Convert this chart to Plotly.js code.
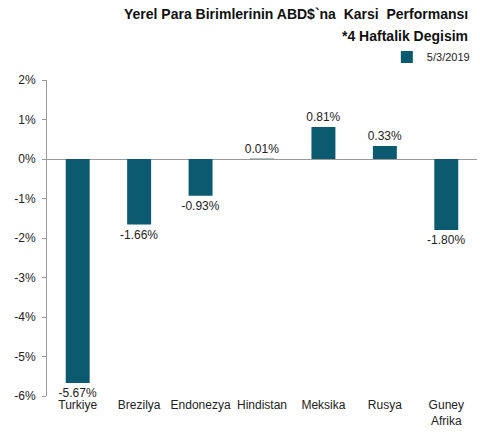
<!DOCTYPE html>
<html><head><meta charset="utf-8">
<script src="https://cdn.plot.ly/plotly-3.0.1.min.js"></script>
<style>html,body{margin:0;padding:0;background:#fff}#c{width:480px;height:447px}</style>
</head><body><div id="c"></div>
<script>
const categories = ["Turkiye", "Brezilya", "Endonezya", "Hindistan", "Meksika", "Rusya", "Guney<br>Afrika"];
const values = [-5.67, -1.66, -0.93, 0.01, 0.81, 0.33, -1.80];
const seriesName = "5/3/2019";
const yTickVals = [2, 1, 0, -1, -2, -3, -4, -5, -6];
const yTickText = ["2%", "1%", "0%", "-1%", "-2%", "-3%", "-4%", "-5%", "-6%"];
const titleLines = ["Yerel Para Birimlerinin ABD$`na  Karsi  Performansı", "*4 Haftalik Degisim"];

const F = "Liberation Sans, Arial, sans-serif";
const color = "#0b5a6f";
const H = 316, T = 80;
const py = px => 1 + (T - px) / H;

Plotly.newPlot("c", [{
  type: "bar",
  x: categories,
  y: values,
  name: seriesName,
  marker: {color: color},
  width: 0.39,
  text: values.map(v => v.toFixed(2) + "%"),
  textposition: "outside",
  constraintext: "none",
  cliponaxis: false,
  textfont: {family: F, size: 12, color: "#222"},
  hoverinfo: "none"
}], {
  width: 480, height: 447,
  margin: {l: 47, r: 3, t: 80, b: 51},
  paper_bgcolor: "#fff", plot_bgcolor: "#fff",
  font: {family: F, size: 12, color: "#222"},
  annotations: [
    {text: "<b>" + titleLines[0] + "</b>", xref: "paper", yref: "paper", x: 0.983, y: py(14),
     xanchor: "right", yanchor: "middle", showarrow: false, font: {family: F, size: 14, color: "#111"}},
    {text: "<b>" + titleLines[1] + "</b>", xref: "paper", yref: "paper", x: 0.983, y: py(36),
     xanchor: "right", yanchor: "middle", showarrow: false, font: {family: F, size: 14, color: "#111"}}
  ],
  showlegend: true,
  legend: {
    orientation: "h", x: 0.995, xanchor: "right", y: py(57), yanchor: "middle",
    font: {family: F, size: 11, color: "#222"},
    bgcolor: "rgba(0,0,0,0)", itemwidth: 30, tracegroupgap: 0
  },
  xaxis: {
    showline: false, showgrid: false, zeroline: false,
    ticks: "", tickangle: 0, tickfont: {family: F, size: 12, color: "#222"},
    fixedrange: true
  },
  yaxis: {
    range: [-6, 2],
    tickvals: yTickVals, ticktext: yTickText,
    showline: true, linecolor: "#999", linewidth: 1,
    ticks: "outside", ticklen: 4, tickcolor: "#999",
    ticklabelstandoff: 4,
    showgrid: false,
    zeroline: true, zerolinecolor: "#999", zerolinewidth: 1,
    tickfont: {family: F, size: 12, color: "#222"},
    fixedrange: true
  }
}, {displayModeBar: false, staticPlot: true});
</script></body></html>
